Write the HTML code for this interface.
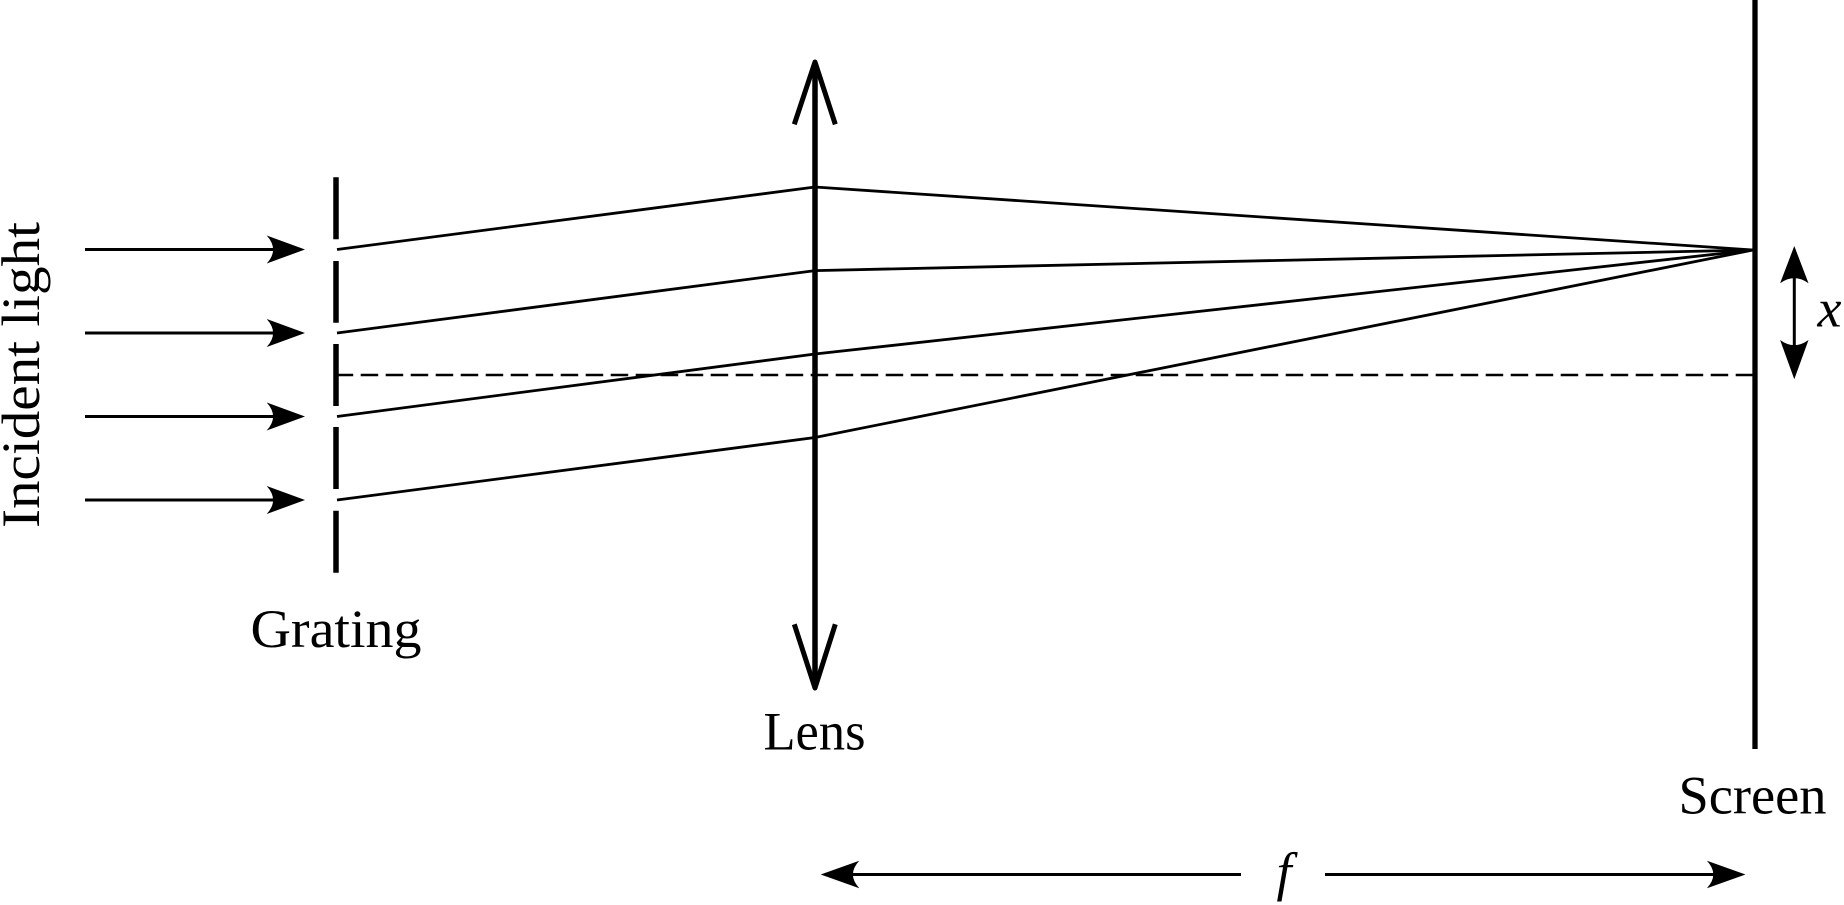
<!DOCTYPE html>
<html>
<head>
<meta charset="utf-8">
<style>
  html, body { margin: 0; padding: 0; background: #fff; }
  svg { display: block; }
  text { font-family: "Liberation Serif", serif; fill: #000; }
</style>
</head>
<body>
<svg width="1844" height="905" viewBox="0 0 1844 905" xmlns="http://www.w3.org/2000/svg">
  <rect x="0" y="0" width="1844" height="905" fill="#fff"/>

  <!-- Incident light arrows -->
  <g stroke="#000" stroke-width="3" fill="none">
    <line x1="85" y1="249.5" x2="280" y2="249.5"/>
    <line x1="85" y1="333" x2="280" y2="333"/>
    <line x1="85" y1="416.5" x2="280" y2="416.5"/>
    <line x1="85" y1="500" x2="280" y2="500"/>
  </g>
  <g fill="#000">
    <path d="M305 249.5 L266.7 235.5 Q279.5 249.5 266.7 263.5 Z"/>
    <path d="M305 333 L266.7 319 Q279.5 333 266.7 347 Z"/>
    <path d="M305 416.5 L266.7 402.5 Q279.5 416.5 266.7 430.5 Z"/>
    <path d="M305 500 L266.7 486 Q279.5 500 266.7 514 Z"/>
  </g>

  <!-- Dashed optical axis -->
  <line x1="335.7" y1="375" x2="1753" y2="375" stroke="#000" stroke-width="2.4" stroke-dasharray="17.5 7.5"/>

  <!-- Grating -->
  <g stroke="#000" stroke-width="5.5">
    <line x1="336" y1="177.3" x2="336" y2="239.3"/>
    <line x1="336" y1="261" x2="336" y2="322.7"/>
    <line x1="336" y1="344" x2="336" y2="406"/>
    <line x1="336" y1="427" x2="336" y2="489"/>
    <line x1="336" y1="510.7" x2="336" y2="572.7"/>
  </g>

  <!-- Rays -->
  <g stroke="#000" stroke-width="2.8" fill="none" stroke-linejoin="miter">
    <polyline points="337,249.5 815,187 1753,250"/>
    <polyline points="337,333 815,270.6 1753,250"/>
    <polyline points="337,416.5 815,354 1753,250"/>
    <polyline points="337,500 815,437.5 1753,250"/>
  </g>

  <!-- Lens -->
  <line x1="815" y1="63" x2="815" y2="687" stroke="#000" stroke-width="5.5"/>
  <polyline points="794.3,124.3 815,62 835.3,124.3" stroke="#000" stroke-width="5" fill="none" stroke-linejoin="round"/>
  <polyline points="794.3,624.3 815,688 835.3,624.3" stroke="#000" stroke-width="5" fill="none" stroke-linejoin="round"/>

  <!-- Screen -->
  <line x1="1755" y1="0" x2="1755" y2="749" stroke="#000" stroke-width="5.3"/>

  <!-- x arrow -->
  <line x1="1794.3" y1="275" x2="1794.3" y2="350" stroke="#000" stroke-width="3"/>
  <path d="M1794.3 246 L1780.1 283.3 Q1794.3 273 1808.5 283.3 Z" fill="#000"/>
  <path d="M1794.3 379.3 L1780.1 340 Q1794.3 350.3 1808.5 340 Z" fill="#000"/>
  <text x="1817.5" y="326.5" font-size="54" font-style="italic">x</text>

  <!-- f arrow -->
  <line x1="850" y1="874.5" x2="1241" y2="874.5" stroke="#000" stroke-width="3"/>
  <line x1="1325" y1="874.5" x2="1716" y2="874.5" stroke="#000" stroke-width="3"/>
  <path d="M820.7 874.5 L859.3 860.8 Q846.5 874.5 859.3 888.2 Z" fill="#000"/>
  <path d="M1745.5 874.5 L1706.9 860.8 Q1719.7 874.5 1706.9 888.2 Z" fill="#000"/>
  <text x="1284" y="890" font-size="54" font-style="italic" text-anchor="middle">f</text>

  <!-- Labels -->
  <text x="336" y="647" font-size="54" text-anchor="middle" textLength="171" lengthAdjust="spacingAndGlyphs">Grating</text>
  <text x="814.5" y="749.3" font-size="54" text-anchor="middle" textLength="102" lengthAdjust="spacingAndGlyphs">Lens</text>
  <text x="1752.5" y="813.3" font-size="54" text-anchor="middle" textLength="148" lengthAdjust="spacingAndGlyphs">Screen</text>
  <text transform="translate(39,375) rotate(-90)" x="0" y="0" font-size="54" text-anchor="middle" textLength="306" lengthAdjust="spacingAndGlyphs">Incident light</text>
</svg>
</body>
</html>
